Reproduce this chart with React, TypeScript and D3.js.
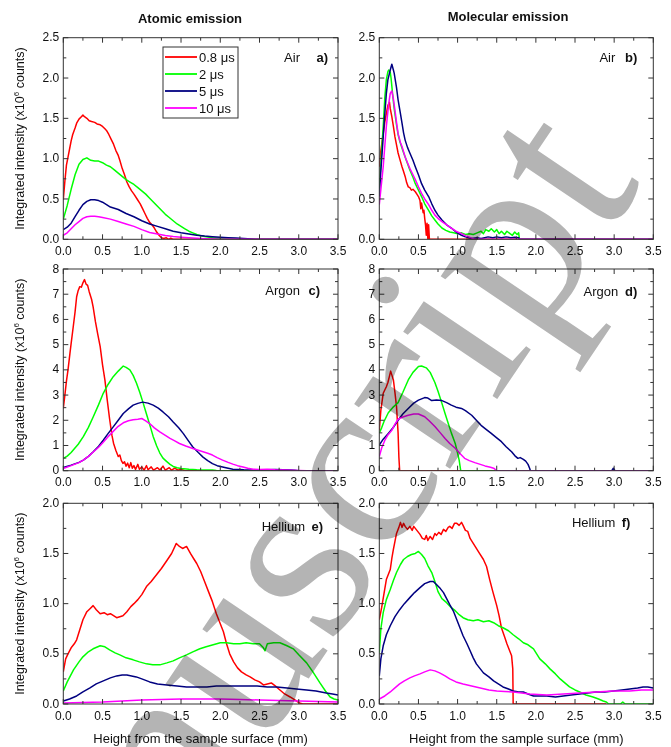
import React from 'react';
import * as d3 from 'd3';

type Pt = [number, number];

// ---------- labels / ticks ----------
const SERIES_NAMES = ['0.8 μs', '2 μs', '5 μs', '10 μs'];
const SERIES_COLORS = ['#ff0000', '#00ff00', '#000080', '#ff00ff'];
const COLUMN_TITLES = ['Atomic emission', 'Molecular emission'];
const X_TITLE = 'Height from the sample surface (mm)';
const X_TICKS = [0, 0.5, 1, 1.5, 2, 2.5, 3, 3.5];
const Y_TICKS_AIR = [0, 0.5, 1, 1.5, 2, 2.5];
const Y_TICKS_ARGON = [0, 1, 2, 3, 4, 5, 6, 7, 8];
const Y_TICKS_HELIUM = [0, 0.5, 1, 1.5, 2];
const GASES = ['Air', 'Argon', 'Hellium'];
const PANEL_LETTERS = ['a)', 'b)', 'c)', 'd)', 'e)', 'f)'];

// ---------- a) Air, atomic ----------
const airAt08: Pt[] = [[0,0.49],[0.02,0.72],[0.04,0.92],[0.06,1.02],[0.08,1.12],[0.1,1.22],[0.12,1.3],[0.15,1.38],[0.17,1.44],[0.2,1.49],[0.23,1.52],[0.25,1.54],[0.27,1.52],[0.3,1.5],[0.33,1.47],[0.36,1.46],[0.4,1.45],[0.43,1.43],[0.47,1.42],[0.5,1.4],[0.53,1.37],[0.55,1.35],[0.58,1.3],[0.61,1.24],[0.64,1.18],[0.67,1.1],[0.7,1.04],[0.72,0.98],[0.75,0.88],[0.78,0.8],[0.81,0.71],[0.84,0.65],[0.87,0.6],[0.9,0.56],[0.94,0.5],[0.98,0.44],[1.01,0.38],[1.04,0.32],[1.07,0.26],[1.1,0.21],[1.13,0.18],[1.16,0.14],[1.19,0.09],[1.22,0.05],[1.25,0.02],[1.28,0.01],[1.31,0.02],[1.34,0],[1.37,0.015],[1.4,0],[3.5,0]];
const airAt2: Pt[] = [[0,0.25],[0.05,0.42],[0.1,0.62],[0.15,0.8],[0.2,0.93],[0.25,0.99],[0.3,1.01],[0.35,0.98],[0.4,0.97],[0.45,0.97],[0.5,0.95],[0.55,0.92],[0.6,0.9],[0.65,0.86],[0.7,0.82],[0.75,0.78],[0.8,0.74],[0.85,0.71],[0.9,0.68],[0.95,0.64],[1.0,0.6],[1.05,0.56],[1.1,0.51],[1.15,0.46],[1.2,0.41],[1.25,0.36],[1.3,0.31],[1.35,0.27],[1.4,0.23],[1.45,0.19],[1.5,0.16],[1.55,0.13],[1.6,0.1],[1.65,0.08],[1.7,0.06],[1.75,0.045],[1.8,0.035],[1.9,0.02],[2.0,0.01],[2.1,0],[3.5,0]];
const airAt5: Pt[] = [[0,0.12],[0.05,0.15],[0.1,0.2],[0.15,0.28],[0.2,0.36],[0.25,0.43],[0.3,0.47],[0.35,0.49],[0.4,0.49],[0.45,0.48],[0.5,0.46],[0.55,0.43],[0.6,0.4],[0.7,0.37],[0.8,0.32],[0.9,0.28],[1.0,0.23],[1.1,0.19],[1.2,0.16],[1.3,0.13],[1.4,0.1],[1.5,0.08],[1.6,0.065],[1.7,0.05],[1.8,0.04],[1.9,0.033],[2.0,0.026],[2.1,0.02],[2.2,0.015],[2.3,0.01],[2.4,0.003],[2.45,0],[3.5,0]];
const airAt10: Pt[] = [[0,0.05],[0.05,0.08],[0.1,0.13],[0.15,0.18],[0.2,0.22],[0.25,0.26],[0.3,0.28],[0.35,0.285],[0.4,0.285],[0.45,0.28],[0.5,0.27],[0.6,0.25],[0.7,0.22],[0.8,0.19],[0.9,0.16],[1.0,0.12],[1.1,0.085],[1.2,0.065],[1.3,0.048],[1.4,0.035],[1.5,0.026],[1.6,0.018],[1.7,0.012],[1.8,0.007],[1.9,0.004],[2.0,0],[3.5,0]];

// ---------- b) Air, molecular ----------
const airMol08: Pt[] = [[0,0.9],[0.02,1.1],[0.05,1.31],[0.07,1.45],[0.09,1.56],[0.11,1.66],[0.13,1.7],[0.14,1.62],[0.16,1.52],[0.18,1.4],[0.2,1.27],[0.22,1.17],[0.24,1.07],[0.26,1.0],[0.29,0.9],[0.31,0.84],[0.33,0.78],[0.35,0.7],[0.37,0.65],[0.39,0.64],[0.41,0.61],[0.43,0.62],[0.46,0.59],[0.48,0.56],[0.5,0.53],[0.52,0.48],[0.53,0.38],[0.54,0.45],[0.56,0.33],[0.57,0.36],[0.58,0.26],[0.59,0.18],[0.6,0.05],[0.61,0.2],[0.62,0],[0.63,0.18],[0.64,0],[3.5,0]];
const airMol2: Pt[] = [[0,0.63],[0.02,0.95],[0.05,1.4],[0.07,1.75],[0.09,1.98],[0.11,2.08],[0.12,2.1],[0.14,2.07],[0.15,2.0],[0.17,1.8],[0.19,1.62],[0.22,1.42],[0.24,1.3],[0.26,1.22],[0.3,1.1],[0.33,1.02],[0.36,0.94],[0.39,0.86],[0.43,0.77],[0.46,0.69],[0.5,0.61],[0.54,0.53],[0.58,0.44],[0.63,0.36],[0.67,0.29],[0.71,0.24],[0.75,0.19],[0.8,0.14],[0.85,0.11],[0.9,0.09],[0.95,0.08],[1.0,0.07],[1.05,0.08],[1.1,0.06],[1.15,0.07],[1.2,0.06],[1.25,0.08],[1.3,0.1],[1.33,0.07],[1.36,0.12],[1.4,0.1],[1.43,0.13],[1.47,0.09],[1.5,0.12],[1.53,0.07],[1.56,0.1],[1.6,0.06],[1.63,0.1],[1.67,0.07],[1.7,0.05],[1.73,0.09],[1.76,0.06],[1.78,0.08],[1.79,0],[3.5,0]];
const airMol5: Pt[] = [[0,0.53],[0.02,0.85],[0.05,1.27],[0.07,1.55],[0.09,1.81],[0.11,1.98],[0.14,2.1],[0.16,2.17],[0.18,2.1],[0.19,2.06],[0.22,1.88],[0.24,1.73],[0.27,1.56],[0.29,1.44],[0.31,1.32],[0.33,1.23],[0.36,1.14],[0.39,1.07],[0.43,0.98],[0.46,0.9],[0.5,0.8],[0.54,0.69],[0.58,0.61],[0.63,0.53],[0.67,0.44],[0.71,0.36],[0.75,0.3],[0.8,0.24],[0.86,0.18],[0.92,0.14],[0.98,0.09],[1.05,0.05],[1.1,0.03],[1.18,0.01],[1.25,0.02],[1.3,0.01],[1.39,0.03],[1.45,0.02],[1.5,0.03],[1.56,0.02],[1.62,0.03],[1.68,0.02],[1.73,0.025],[1.78,0.02],[1.79,0],[3.5,0]];
const airMol10: Pt[] = [[0,0.43],[0.02,0.62],[0.05,0.9],[0.07,1.15],[0.09,1.4],[0.12,1.68],[0.14,1.81],[0.16,1.84],[0.18,1.74],[0.2,1.6],[0.22,1.45],[0.24,1.31],[0.27,1.2],[0.29,1.15],[0.33,1.02],[0.36,0.95],[0.39,0.88],[0.43,0.8],[0.46,0.74],[0.5,0.65],[0.54,0.57],[0.58,0.5],[0.63,0.43],[0.67,0.36],[0.71,0.3],[0.75,0.26],[0.8,0.22],[0.86,0.18],[0.92,0.14],[0.98,0.1],[1.05,0.07],[1.1,0.045],[1.14,0.03],[1.18,0.015],[1.22,0],[3.5,0]];

// ---------- c) Argon, atomic ----------
const arAt08: Pt[] = [[0,2.47],[0.02,3.0],[0.04,3.55],[0.06,4.0],[0.085,4.66],[0.1,5.05],[0.127,5.72],[0.15,6.3],[0.17,6.9],[0.19,7.15],[0.21,7.3],[0.23,7.28],[0.25,7.45],[0.27,7.58],[0.29,7.4],[0.31,7.35],[0.33,7.1],[0.36,6.8],[0.38,6.5],[0.41,5.9],[0.44,5.4],[0.47,4.92],[0.5,4.2],[0.53,3.6],[0.56,2.8],[0.59,2.05],[0.62,1.4],[0.64,1.09],[0.67,0.8],[0.7,0.56],[0.72,0.62],[0.74,0.4],[0.76,0.29],[0.78,0.35],[0.8,0.18],[0.82,0.3],[0.84,0.12],[0.86,0.32],[0.88,0.1],[0.9,0.2],[0.92,0.05],[0.95,0.25],[0.97,0.06],[1.0,0.15],[1.03,0.02],[1.06,0.2],[1.08,0.04],[1.12,0.15],[1.15,0.02],[1.2,0.12],[1.23,0.03],[1.27,0.18],[1.3,0.02],[1.35,0.12],[1.38,0.02],[1.42,0.1],[1.46,0.02],[1.5,0.06],[1.55,0],[3.5,0]];
const arAt2: Pt[] = [[0,0.49],[0.05,0.58],[0.1,0.72],[0.127,0.82],[0.19,1.05],[0.255,1.35],[0.32,1.72],[0.382,2.14],[0.45,2.62],[0.509,3.07],[0.57,3.42],[0.636,3.73],[0.7,3.95],[0.764,4.15],[0.8,4.1],[0.848,4.0],[0.89,3.78],[0.933,3.47],[0.975,3.1],[1.018,2.68],[1.05,2.35],[1.082,2.02],[1.115,1.68],[1.145,1.36],[1.19,0.98],[1.23,0.7],[1.27,0.5],[1.315,0.37],[1.36,0.25],[1.4,0.17],[1.45,0.12],[1.5,0.09],[1.6,0.06],[1.7,0.04],[1.8,0.03],[1.9,0.03],[1.95,0.01],[2.0,0],[3.5,0]];
const arAt5: Pt[] = [[0,0.13],[0.1,0.22],[0.2,0.33],[0.255,0.42],[0.32,0.57],[0.382,0.75],[0.45,0.97],[0.509,1.21],[0.57,1.47],[0.636,1.74],[0.7,2.0],[0.764,2.27],[0.83,2.45],[0.89,2.6],[0.95,2.67],[1.01,2.72],[1.08,2.68],[1.145,2.6],[1.21,2.48],[1.27,2.33],[1.34,2.14],[1.4,1.93],[1.47,1.7],[1.53,1.47],[1.59,1.2],[1.65,0.94],[1.72,0.72],[1.78,0.54],[1.84,0.4],[1.9,0.28],[1.96,0.2],[2.03,0.15],[2.1,0.1],[2.16,0.06],[2.3,0.04],[2.45,0.03],[2.6,0.04],[2.7,0.05],[2.8,0.04],[2.9,0.03],[2.95,0.02],[3.0,0],[3.5,0]];
const arAt10: Pt[] = [[0,0.09],[0.1,0.2],[0.2,0.32],[0.255,0.42],[0.32,0.57],[0.382,0.74],[0.45,0.93],[0.509,1.13],[0.57,1.35],[0.636,1.56],[0.7,1.76],[0.764,1.9],[0.83,1.98],[0.89,2.02],[0.95,2.04],[1.0,2.07],[1.05,1.98],[1.1,1.87],[1.16,1.7],[1.23,1.54],[1.3,1.4],[1.36,1.28],[1.42,1.18],[1.48,1.08],[1.56,0.98],[1.65,0.88],[1.72,0.81],[1.78,0.75],[1.84,0.69],[1.9,0.62],[1.96,0.52],[2.03,0.42],[2.1,0.33],[2.16,0.26],[2.22,0.2],[2.29,0.15],[2.35,0.1],[2.42,0.06],[2.5,0.05],[2.6,0.06],[2.7,0.04],[2.8,0.03],[2.9,0.02],[3.0,0.01],[3.1,0],[3.5,0]];

// ---------- d) Argon, molecular ----------
const arMol08: Pt[] = [[0,1.6],[0.02,2.4],[0.05,3.07],[0.07,3.2],[0.09,3.33],[0.11,3.5],[0.13,3.75],[0.145,3.95],[0.16,3.8],[0.18,3.6],[0.2,3.1],[0.22,2.54],[0.24,1.5],[0.25,0.55],[0.26,0],[3.5,0]];
const arMol2: Pt[] = [[0,1.5],[0.03,1.7],[0.06,1.95],[0.115,2.3],[0.17,2.5],[0.24,2.7],[0.3,3.1],[0.37,3.6],[0.43,3.9],[0.5,4.13],[0.54,4.15],[0.6,4.08],[0.65,3.9],[0.71,3.5],[0.75,3.15],[0.8,2.67],[0.84,2.27],[0.88,1.88],[0.92,1.5],[0.97,1.08],[1.0,0.7],[1.02,0.42],[1.04,0],[3.5,0]];
const arMol5: Pt[] = [[0,1.02],[0.05,1.25],[0.115,1.48],[0.18,1.72],[0.24,2.0],[0.3,2.25],[0.37,2.47],[0.44,2.68],[0.5,2.8],[0.58,2.9],[0.62,2.88],[0.67,2.78],[0.73,2.8],[0.8,2.78],[0.86,2.7],[0.92,2.6],[0.98,2.52],[1.05,2.47],[1.1,2.38],[1.18,2.2],[1.24,2.0],[1.3,1.8],[1.36,1.65],[1.43,1.48],[1.5,1.3],[1.56,1.15],[1.62,0.95],[1.69,0.75],[1.73,0.6],[1.77,0.49],[1.8,0.52],[1.84,0.45],[1.87,0.38],[1.9,0.25],[1.92,0.1],[1.93,0],[2.97,0],[2.99,0.1],[3.01,0],[3.5,0]];
const arMol10: Pt[] = [[0,0.56],[0.03,0.9],[0.07,1.2],[0.11,1.42],[0.16,1.6],[0.2,1.85],[0.24,2.04],[0.3,2.13],[0.37,2.2],[0.44,2.25],[0.5,2.25],[0.58,2.14],[0.64,1.97],[0.71,1.75],[0.78,1.5],[0.84,1.28],[0.9,1.08],[0.97,0.89],[1.03,0.68],[1.09,0.49],[1.15,0.4],[1.22,0.32],[1.29,0.25],[1.35,0.19],[1.42,0.14],[1.46,0.1],[1.48,0.05],[1.49,0],[3.5,0]];

// ---------- e) Helium, atomic ----------
const heAt08: Pt[] = [[0,0.32],[0.03,0.45],[0.06,0.5],[0.1,0.56],[0.14,0.6],[0.17,0.64],[0.21,0.74],[0.25,0.84],[0.3,0.92],[0.34,0.95],[0.38,0.98],[0.42,0.94],[0.47,0.9],[0.52,0.91],[0.56,0.89],[0.6,0.9],[0.64,0.88],[0.68,0.86],[0.72,0.87],[0.76,0.88],[0.81,0.92],[0.86,0.97],[0.9,1.0],[0.95,1.04],[1.0,1.09],[1.06,1.17],[1.12,1.22],[1.19,1.29],[1.25,1.35],[1.32,1.43],[1.38,1.5],[1.44,1.6],[1.48,1.57],[1.52,1.55],[1.57,1.57],[1.62,1.5],[1.66,1.45],[1.7,1.4],[1.75,1.32],[1.8,1.22],[1.85,1.12],[1.9,1.02],[1.95,0.9],[2.0,0.8],[2.04,0.72],[2.08,0.6],[2.12,0.5],[2.17,0.42],[2.22,0.36],[2.27,0.32],[2.33,0.29],[2.38,0.27],[2.44,0.24],[2.5,0.22],[2.55,0.19],[2.6,0.2],[2.65,0.21],[2.7,0.18],[2.76,0.14],[2.82,0.1],[2.89,0.07],[2.95,0.04],[3.01,0.01],[3.05,0],[3.5,0]];
const heAt2: Pt[] = [[0,0.13],[0.05,0.22],[0.13,0.34],[0.2,0.42],[0.25,0.47],[0.32,0.52],[0.38,0.55],[0.47,0.58],[0.53,0.57],[0.59,0.54],[0.66,0.51],[0.72,0.49],[0.8,0.46],[0.89,0.44],[0.97,0.42],[1.06,0.4],[1.14,0.39],[1.23,0.39],[1.32,0.41],[1.4,0.43],[1.48,0.46],[1.57,0.49],[1.65,0.52],[1.74,0.55],[1.82,0.57],[1.91,0.59],[2.0,0.61],[2.08,0.61],[2.17,0.6],[2.25,0.6],[2.33,0.61],[2.42,0.6],[2.5,0.6],[2.55,0.56],[2.57,0.53],[2.6,0.6],[2.68,0.61],[2.76,0.61],[2.85,0.58],[2.93,0.55],[3.0,0.49],[3.1,0.41],[3.18,0.32],[3.27,0.21],[3.34,0.13],[3.4,0.07],[3.45,0.05],[3.5,0.04]];
const heAt5: Pt[] = [[0,0.03],[0.08,0.05],[0.17,0.08],[0.25,0.12],[0.34,0.16],[0.42,0.2],[0.51,0.23],[0.6,0.26],[0.68,0.28],[0.75,0.29],[0.81,0.29],[0.87,0.28],[0.93,0.27],[1.0,0.25],[1.1,0.22],[1.2,0.2],[1.32,0.19],[1.45,0.18],[1.57,0.17],[1.7,0.17],[1.83,0.17],[1.95,0.18],[2.08,0.18],[2.2,0.18],[2.34,0.18],[2.47,0.18],[2.6,0.17],[2.72,0.17],[2.85,0.16],[2.97,0.15],[3.1,0.14],[3.22,0.13],[3.35,0.11],[3.43,0.1],[3.5,0.09]];
const heAt10: Pt[] = [[0,0.01],[0.25,0.015],[0.5,0.02],[0.75,0.03],[1.0,0.04],[1.25,0.045],[1.5,0.05],[1.75,0.05],[2.0,0.05],[2.25,0.045],[2.5,0.04],[2.75,0.035],[3.0,0.03],[3.25,0.025],[3.5,0.02]];

// ---------- f) Helium, molecular ----------
const heMol08: Pt[] = [[0,0.84],[0.03,0.96],[0.06,1.1],[0.09,1.24],[0.12,1.3],[0.14,1.34],[0.16,1.45],[0.18,1.54],[0.2,1.62],[0.22,1.7],[0.25,1.76],[0.27,1.81],[0.29,1.76],[0.31,1.8],[0.33,1.77],[0.36,1.74],[0.39,1.77],[0.42,1.73],[0.44,1.77],[0.46,1.75],[0.49,1.72],[0.52,1.69],[0.55,1.65],[0.58,1.64],[0.6,1.68],[0.62,1.63],[0.65,1.67],[0.68,1.64],[0.71,1.7],[0.73,1.68],[0.76,1.71],[0.79,1.69],[0.82,1.74],[0.85,1.72],[0.88,1.76],[0.9,1.77],[0.93,1.75],[0.96,1.8],[0.99,1.8],[1.02,1.78],[1.05,1.81],[1.07,1.78],[1.1,1.73],[1.13,1.72],[1.16,1.65],[1.2,1.6],[1.24,1.55],[1.28,1.5],[1.33,1.44],[1.37,1.37],[1.41,1.24],[1.45,1.12],[1.5,0.98],[1.53,0.88],[1.56,0.76],[1.6,0.67],[1.63,0.6],[1.66,0.54],[1.69,0.48],[1.705,0.35],[1.71,0],[2.9,0]];
const heMol2: Pt[] = [[0,0.51],[0.02,0.75],[0.05,0.91],[0.09,1.04],[0.14,1.14],[0.18,1.23],[0.22,1.31],[0.27,1.39],[0.31,1.44],[0.36,1.47],[0.41,1.49],[0.46,1.5],[0.5,1.52],[0.54,1.49],[0.58,1.45],[0.62,1.38],[0.67,1.31],[0.71,1.22],[0.75,1.12],[0.8,1.05],[0.86,1.01],[0.92,0.96],[0.97,0.93],[1.02,0.89],[1.07,0.86],[1.13,0.84],[1.2,0.83],[1.26,0.84],[1.33,0.82],[1.4,0.83],[1.46,0.81],[1.52,0.78],[1.58,0.76],[1.65,0.73],[1.71,0.69],[1.78,0.65],[1.84,0.61],[1.9,0.59],[1.97,0.55],[2.01,0.5],[2.05,0.45],[2.12,0.4],[2.18,0.35],[2.25,0.3],[2.31,0.25],[2.37,0.21],[2.43,0.17],[2.5,0.14],[2.56,0.12],[2.64,0.09],[2.73,0.07],[2.8,0.05],[2.86,0.03],[2.9,0.02],[2.93,0],[3.08,0],[3.11,0.02],[3.14,0],[3.5,0]];
const heMol5: Pt[] = [[0,0.28],[0.02,0.45],[0.05,0.58],[0.09,0.69],[0.14,0.78],[0.2,0.87],[0.26,0.94],[0.32,1.0],[0.39,1.06],[0.45,1.11],[0.52,1.16],[0.58,1.2],[0.65,1.22],[0.69,1.22],[0.73,1.19],[0.78,1.15],[0.82,1.11],[0.86,1.05],[0.9,0.99],[0.95,0.92],[0.99,0.84],[1.03,0.76],[1.07,0.68],[1.12,0.6],[1.16,0.53],[1.2,0.46],[1.24,0.4],[1.29,0.35],[1.33,0.31],[1.4,0.27],[1.46,0.23],[1.52,0.2],[1.58,0.17],[1.65,0.15],[1.71,0.13],[1.78,0.12],[1.84,0.12],[1.9,0.1],[1.97,0.08],[2.05,0.08],[2.14,0.08],[2.25,0.07],[2.35,0.08],[2.45,0.09],[2.56,0.1],[2.66,0.11],[2.77,0.12],[2.88,0.12],[2.99,0.13],[3.1,0.14],[3.2,0.15],[3.3,0.16],[3.37,0.17],[3.43,0.17],[3.5,0.16]];
const heMol10: Pt[] = [[0,0.05],[0.07,0.08],[0.14,0.12],[0.2,0.16],[0.26,0.2],[0.32,0.23],[0.39,0.26],[0.45,0.28],[0.52,0.3],[0.58,0.32],[0.65,0.34],[0.71,0.33],[0.77,0.31],[0.84,0.28],[0.9,0.25],[0.98,0.22],[1.07,0.2],[1.18,0.18],[1.29,0.16],[1.4,0.14],[1.5,0.13],[1.6,0.125],[1.71,0.12],[1.82,0.11],[1.92,0.1],[2.03,0.095],[2.14,0.09],[2.25,0.095],[2.35,0.1],[2.46,0.105],[2.56,0.11],[2.67,0.115],[2.77,0.12],[2.88,0.125],[2.99,0.13],[3.1,0.13],[3.2,0.13],[3.35,0.14],[3.5,0.14]];

const PANEL_SERIES: Pt[][][] = [
  [airAt08, airAt2, airAt5, airAt10],
  [airMol08, airMol2, airMol5, airMol10],
  [arAt08, arAt2, arAt5, arAt10],
  [arMol08, arMol2, arMol5, arMol10],
  [heAt08, heAt2, heAt5, heAt10],
  [heMol08, heMol2, heMol5, heMol10],
];
const ROW_Y_TICKS = [Y_TICKS_AIR, Y_TICKS_ARGON, Y_TICKS_HELIUM];

// ---------- layout ----------
const W = 671, H = 747;
const COLS = [{ left: 63.3, right: 338 }, { left: 379.3, right: 653.3 }];
const ROWS = [{ top: 37.7, bottom: 239.3 }, { top: 269, bottom: 470.7 }, { top: 503.3, bottom: 704 }];
const ROW_MINOR = [0.25, 0.5, 0.25];
const ROW_FMT = ['.1f', 'd', '.1f'];
const LABEL_POS = [
  { letterEnd: 10, gasEnd: 38, y: 62 },
  { letterEnd: 16, gasEnd: 38, y: 62 },
  { letterEnd: 18, gasEnd: 38, y: 295 },
  { letterEnd: 16, gasEnd: 35, y: 296 },
  { letterEnd: 15, gasEnd: 33, y: 531 },
  { letterEnd: 23, gasEnd: 38, y: 527 },
];
const FONT = '"Liberation Sans", Arial, Helvetica, sans-serif';
const AXIS = '#333';

function Panel({ idx }: { idx: number }) {
  const col = idx % 2, row = Math.floor(idx / 2);
  const { left, right } = COLS[col];
  const { top, bottom } = ROWS[row];
  const yTicks = ROW_Y_TICKS[row];
  const yMax = yTicks[yTicks.length - 1];
  const x = d3.scaleLinear().domain([0, 3.5]).range([left, right]);
  const y = d3.scaleLinear().domain([0, yMax]).range([bottom, top]);
  const xMinor = d3.range(0.25, 3.5, 0.5);
  const yMinor = d3.range(ROW_MINOR[row], yMax, ROW_MINOR[row] * 2);
  const fmt = d3.format(ROW_FMT[row]);
  const line = d3.line<Pt>().x((d) => x(d[0])).y((d) => y(d[1]));
  const clipId = `clip-${idx}`;
  const lp = LABEL_POS[idx];
  const ticks: JSX.Element[] = [];
  X_TICKS.forEach((t, i) => {
    ticks.push(<line key={`xb${i}`} x1={x(t)} x2={x(t)} y1={bottom} y2={bottom - 5} />);
    ticks.push(<line key={`xt${i}`} x1={x(t)} x2={x(t)} y1={top} y2={top + 5} />);
  });
  xMinor.forEach((t, i) => {
    ticks.push(<line key={`xbm${i}`} x1={x(t)} x2={x(t)} y1={bottom} y2={bottom - 3} />);
    ticks.push(<line key={`xtm${i}`} x1={x(t)} x2={x(t)} y1={top} y2={top + 3} />);
  });
  yTicks.forEach((t, i) => {
    ticks.push(<line key={`yl${i}`} x1={left} x2={left + 5} y1={y(t)} y2={y(t)} />);
    ticks.push(<line key={`yr${i}`} x1={right} x2={right - 5} y1={y(t)} y2={y(t)} />);
  });
  yMinor.forEach((t, i) => {
    ticks.push(<line key={`ylm${i}`} x1={left} x2={left + 3} y1={y(t)} y2={y(t)} />);
    ticks.push(<line key={`yrm${i}`} x1={right} x2={right - 3} y1={y(t)} y2={y(t)} />);
  });
  return (
    <g>
      <defs>
        <clipPath id={clipId}>
          <rect x={left} y={top - 1} width={right - left} height={bottom - top + 1} />
        </clipPath>
      </defs>
      <g clipPath={`url(#${clipId})`} fill="none" strokeWidth={1.5} strokeLinejoin="round">
        {PANEL_SERIES[idx].map((s, i) => (
          <path key={i} d={line(s) || ''} stroke={SERIES_COLORS[i]} />
        ))}
      </g>
      <rect x={left} y={top} width={right - left} height={bottom - top} fill="none" stroke={AXIS} strokeWidth={1} />
      <g stroke={AXIS} strokeWidth={1}>{ticks}</g>
      <g fontFamily={FONT} fontSize={12} fill="#111">
        {X_TICKS.map((t, i) => (
          <text key={`xl${i}`} x={x(t)} y={bottom + 15.5} textAnchor="middle">{t.toFixed(1)}</text>
        ))}
        {yTicks.map((t, i) => (
          <text key={`yl${i}`} x={left - 4} y={y(t)} dy="0.3em" textAnchor="end">{fmt(t)}</text>
        ))}
      </g>
      <g fontFamily={FONT} fontSize={13} fill="#111">
        <text x={right - lp.gasEnd} y={lp.y} textAnchor="end">{GASES[row]}</text>
        <text x={right - lp.letterEnd} y={lp.y} textAnchor="end" fontWeight="bold">{PANEL_LETTERS[idx]}</text>
      </g>
    </g>
  );
}

export default function App() {
  const legendX = 163, legendY = 47;
  return (
    <svg width={W} height={H} style={{ position: 'absolute', left: 0, top: 0, background: '#fff' }}>
      <rect x={0} y={0} width={W} height={H} fill="#fff" />
      {[0, 1, 2, 3, 4, 5].map((i) => <Panel key={i} idx={i} />)}
      <g fontFamily={FONT} fontSize={13} fontWeight="bold" fill="#111" textAnchor="middle">
        <text x={190} y={23}>{COLUMN_TITLES[0]}</text>
        <text x={508} y={21}>{COLUMN_TITLES[1]}</text>
      </g>
      <g fontFamily={FONT} fontSize={12.5} fill="#111" textAnchor="middle">
        {ROWS.map((r, i) => (
          <text key={i} transform={`translate(24,${(r.top + r.bottom) / 2}) rotate(-90)`}>
            Integrated intensity (x10<tspan dy={-5} fontSize={8}>6</tspan><tspan dy={5}> counts)</tspan>
          </text>
        ))}
      </g>
      <g fontFamily={FONT} fontSize={13} fill="#111" textAnchor="middle">
        <text x={(COLS[0].left + COLS[0].right) / 2} y={743}>{X_TITLE}</text>
        <text x={(COLS[1].left + COLS[1].right) / 2} y={743}>{X_TITLE}</text>
      </g>
      <g>
        <rect x={legendX} y={legendY} width={75} height={71} fill="#fff" stroke={AXIS} strokeWidth={1} />
        {SERIES_NAMES.map((n, i) => (
          <g key={i}>
            <line x1={legendX + 2} x2={legendX + 34} y1={legendY + 10 + i * 17} y2={legendY + 10 + i * 17} stroke={SERIES_COLORS[i]} strokeWidth={1.8} />
            <text x={legendX + 36} y={legendY + 15 + i * 17} fontFamily={FONT} fontSize={13} fill="#111">{n}</text>
          </g>
        ))}
      </g>
      <text
        transform="translate(643,183) rotate(-56)"
        textAnchor="end"
        fontFamily='"Liberation Serif", "DejaVu Serif", serif'
        fontSize={252}
        fill="#b4b4b4"
        style={{ mixBlendMode: 'multiply' }}
      >
        Manuscript
      </text>
    </svg>
  );
}
